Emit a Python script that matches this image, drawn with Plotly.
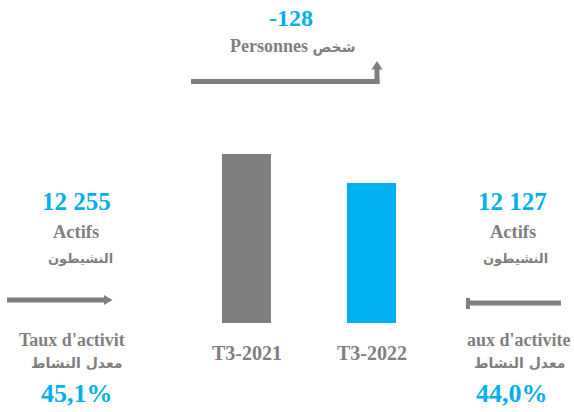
import plotly.graph_objects as go

# ---- data ----
periods = ["T3-2021", "T3-2022"]
actifs = [12255, 12127]
actifs_labels = ["12 255", "12 127"]
taux_labels = ["45,1%", "44,0%"]
variation_label = "-128"
bar_colors = ["#7F7F7F", "#00B0F0"]

W, H = 574, 412
BASE = 11510
GRAY = "#7F7F7F"
BLUE = "#00B0F0"
FONT = "Liberation Serif"
ARFONT = "DejaVu Sans"


def px(x):
    return x / W


def py(y):
    return 1 - y / H


fig = go.Figure()
fig.add_trace(go.Bar(
    x=periods,
    y=[v - BASE for v in actifs],
    base=BASE,
    marker=dict(color=bar_colors, line=dict(width=0)),
    width=0.392,
    hoverinfo="skip",
))

annotations = []


def txt(text, x, y, size, color, family=FONT):
    annotations.append(dict(
        text=f"<b>{text}</b>",
        x=px(x), y=py(y), xref="paper", yref="paper",
        xanchor="center", yanchor="middle", showarrow=False,
        font=dict(family=family, size=size, color=color),
    ))


AR = "<span style='font-family:DejaVu Sans;font-size:14px'>{}</span>"

# top variation
txt(variation_label, 291, 18, 24, BLUE)
txt("Personnes " + AR.format("شخص"), 292, 46, 18, GRAY)

# left block
txt(actifs_labels[0], 76, 201, 25, BLUE)
txt("Actifs", 76, 232, 18.5, GRAY)
txt("النشيطون", 80, 258, 13, GRAY, ARFONT)
txt("Taux d'activit", 72, 340, 18, GRAY)
txt("معدل النشاط", 77, 363, 14, GRAY, ARFONT)
txt(taux_labels[0], 77, 393, 26, BLUE)

# right block
txt(actifs_labels[1], 512, 201, 25, BLUE)
txt("Actifs", 513, 232, 18.5, GRAY)
txt("النشيطون", 515, 258, 13, GRAY, ARFONT)
txt("aux d'activite", 519, 340, 18, GRAY)
txt("معدل النشاط", 520, 363, 14, GRAY, ARFONT)
txt(taux_labels[1], 512, 393, 26, BLUE)

# category labels
for p in periods:
    annotations.append(dict(
        text=f"<b>{p}</b>", x=p, y=py(353), xref="x", yref="paper",
        xanchor="center", yanchor="middle", showarrow=False,
        font=dict(family=FONT, size=20, color=GRAY),
    ))

shapes = []


def line(x0, y0, x1, y1, w=5):
    shapes.append(dict(type="line", xref="paper", yref="paper",
                       x0=px(x0), y0=py(y0), x1=px(x1), y1=py(y1),
                       line=dict(color=GRAY, width=w)))


def poly(points):
    path = "M " + " L ".join(f"{px(a)},{py(b)}" for a, b in points) + " Z"
    shapes.append(dict(type="path", xref="paper", yref="paper", path=path,
                       fillcolor=GRAY, line=dict(color=GRAY, width=0)))


# top elbow arrow
line(191, 81.5, 379.5, 81.5)
line(377, 84, 377, 68)
poly([(371.5, 69.5), (382.5, 69.5), (377, 61)])

# left arrow
line(7, 300, 105, 300)
poly([(104, 295), (104, 305), (112.5, 300)])

# right bar with cap
line(468, 303, 561, 303)
poly([(466, 298), (470, 298), (470, 309), (466, 309)])

fig.update_layout(
    width=W, height=H,
    margin=dict(l=0, r=0, t=0, b=0),
    paper_bgcolor="white", plot_bgcolor="white",
    showlegend=False,
    xaxis=dict(range=[-1.972, 2.62], visible=False, fixedrange=True),
    yaxis=dict(range=[11117.7, 12934], visible=False, fixedrange=True),
    annotations=annotations,
    shapes=shapes,
)

fig.write_html(
    "out.html",
    config={"displayModeBar": False},
    post_script="document.body.style.margin='0px';document.body.style.overflow='hidden';",
)
